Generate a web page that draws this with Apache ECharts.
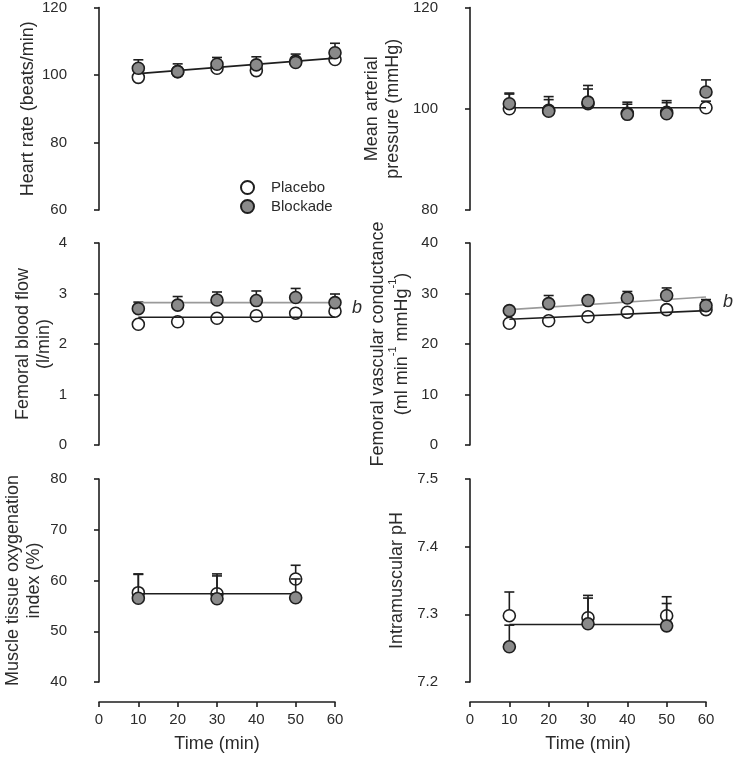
<!DOCTYPE html>
<html>
<head>
<meta charset="utf-8">
<script src="https://cdn.jsdelivr.net/npm/echarts@6/dist/echarts.min.js"></script>
<style>
  html, body { margin: 0; padding: 0; background: #fff; }
  #chart { width: 734px; height: 757px; }
</style>
</head>
<body>
<div id="chart"></div>
<script>
// time points (min)
const time6 = [10, 20, 30, 40, 50, 60];
const time3 = [10, 30, 50];

// heart rate (beats/min)
const hrPlacebo = [99.3, 101.0, 102.0, 101.3, 104.1, 104.6];
const hrBlockade = [102.0, 101.0, 103.2, 103.0, 103.7, 106.6];
const hrBlockadeErr = [104.5, 103.3, 105.2, 105.4, 106.2, 109.4];
const hrFit = [100.4, 105.0];

// mean arterial pressure (mmHg)
const mapPlacebo = [100.0, 99.7, 101.0, 99.1, 99.3, 100.2];
const mapBlockade = [101.0, 99.5, 101.3, 98.9, 99.0, 103.3];
const mapPlaceboErr = [102.9, 101.8, 103.9, 100.9, 101.2, 101.5];
const mapBlockadeErr = [103.1, 102.4, 104.6, 101.3, 101.6, 105.7];
const mapFit = [100.2, 100.2];

// femoral blood flow (l/min)
const fbfPlacebo = [2.39, 2.44, 2.51, 2.56, 2.61, 2.65];
const fbfBlockade = [2.70, 2.77, 2.87, 2.86, 2.92, 2.82];
const fbfBlockadeErr = [2.83, 2.94, 3.03, 3.05, 3.10, 2.99];
const fbfFitPlacebo = [2.53, 2.53];
const fbfFitBlockade = [2.82, 2.82];

// femoral vascular conductance
const fvcPlacebo = [24.1, 24.6, 25.4, 26.3, 26.8, 26.8];
const fvcBlockade = [26.6, 28.0, 28.6, 29.1, 29.6, 27.6];
const fvcBlockadeErr = [27.3, 29.6, 29.4, 30.4, 31.1, 28.8];
const fvcFitPlacebo = [24.9, 26.6];
const fvcFitBlockade = [26.8, 29.3];

// muscle tissue oxygenation index (%)
const stoPlacebo = [57.6, 57.4, 60.3];
const stoBlockade = [56.5, 56.4, 56.6];
const stoPlaceboErr = [61.3, 61.3, 63.0];
const stoBlockadeErr = [61.2, 60.9, 60.3];
const stoFit = [57.4, 57.4];

// intramuscular pH
const phPlacebo = [7.298, 7.295, 7.298];
const phBlockade = [7.252, 7.286, 7.283];
const phPlaceboErr = [7.333, 7.328, 7.326];
const phBlockadeErr = [7.284, 7.324, 7.316];
const phFit = [7.285, 7.285];

const FONT = '"Liberation Sans", Arial, sans-serif';
const INK = '#1e1e1e';
const TEXT = '#2b2b2b';
const GRAY_FILL = '#8a8a8a';
const GRAY_LINE = '#9a9a9a';

const chart = echarts.init(document.getElementById('chart'), null, { renderer: 'canvas' });

const pairs = (xs, ys) => xs.map((x, i) => [x, ys[i]]);
const errPairs = (xs, ys, tops) => xs.map((x, i) => [x, ys[i], tops[i]]);

// left, top, height of each plotting area
const cells = [
  { left: 99, top: 7, height: 203 },
  { left: 470, top: 7, height: 203 },
  { left: 99, top: 243, height: 202 },
  { left: 470, top: 243, height: 202 },
  { left: 99, top: 479, height: 203 },
  { left: 470, top: 479, height: 203 }
];

const grid = cells.map(c => ({ left: c.left, top: c.top, width: 236, height: c.height }));

const xAxis = cells.map((c, i) => {
  const bottom = i >= 4;
  return {
    gridIndex: i,
    type: 'value',
    min: 0,
    max: 60,
    interval: 10,
    show: bottom,
    offset: 20,
    name: bottom ? 'Time (min)' : '',
    nameLocation: 'middle',
    nameGap: 33,
    nameTextStyle: { fontFamily: FONT, fontSize: 18, color: TEXT },
    axisLine: { show: true, lineStyle: { color: INK, width: 1.6 } },
    axisTick: { show: true, length: 5, lineStyle: { color: INK, width: 1.6 } },
    axisLabel: { margin: 10, fontFamily: FONT, fontSize: 15, color: TEXT },
    splitLine: { show: false }
  };
});

const yDefs = [
  { min: 60, max: 120, interval: 20, name: 'Heart rate (beats/min)', gap: 33 },
  { min: 80, max: 120, interval: 20, name: 'Mean arterial\npressure (mmHg)', gap: 43 },
  { min: 0, max: 4, interval: 1, name: 'Femoral blood flow\n(l/min)', gap: 20 },
  { min: 0, max: 40, interval: 10,
    name: '{n|Femoral vascular conductance}\n{n|(ml min}{s|-1}{n| mmHg}{s|-1}{n|)}', gap: 36 },
  { min: 40, max: 80, interval: 10, name: 'Muscle tissue oxygenation\nindex (%)', gap: 31 },
  { min: 7.2, max: 7.5, interval: 0.1, name: 'Intramuscular pH', gap: 39, fmt: v => v.toFixed(1) }
];

const yAxis = yDefs.map((d, i) => ({
  gridIndex: i,
  type: 'value',
  min: d.min,
  max: d.max,
  interval: d.interval,
  offset: 23,
  name: d.name,
  nameLocation: 'middle',
  nameRotate: 90,
  nameGap: d.gap,
  nameTextStyle: {
    fontFamily: FONT, fontSize: 18, color: TEXT, lineHeight: 21,
    rich: {
      n: { fontFamily: FONT, fontSize: 18, color: TEXT, lineHeight: 24, verticalAlign: 'bottom' },
      s: { fontFamily: FONT, fontSize: 11, color: TEXT, lineHeight: 24, verticalAlign: 'top' }
    }
  },
  axisLine: { show: true, lineStyle: { color: INK, width: 1.6 } },
  axisTick: { show: true, length: 5, lineStyle: { color: INK, width: 1.6 } },
  axisLabel: { margin: 9, fontFamily: FONT, fontSize: 15, color: TEXT, formatter: d.fmt },
  splitLine: { show: false }
}));

function errorBars(i, data, z) {
  return {
    type: 'custom',
    xAxisIndex: i,
    yAxisIndex: i,
    z: z,
    silent: true,
    data: data,
    renderItem: (params, api) => {
      const p = api.coord([api.value(0), api.value(1)]);
      const t = api.coord([api.value(0), api.value(2)]);
      const st = { stroke: INK, lineWidth: 1.6 };
      return {
        type: 'group',
        children: [
          { type: 'line', shape: { x1: p[0], y1: p[1], x2: t[0], y2: t[1] }, style: st },
          { type: 'line', shape: { x1: t[0] - 5, y1: t[1], x2: t[0] + 5, y2: t[1] }, style: st }
        ]
      };
    }
  };
}

function dots(i, name, data) {
  const open = name === 'Placebo';
  return {
    type: 'scatter',
    name: name,
    xAxisIndex: i,
    yAxisIndex: i,
    z: open ? 2 : 5,
    symbol: 'circle',
    symbolSize: 12,
    data: data,
    itemStyle: { color: open ? '#ffffff' : GRAY_FILL, borderColor: INK, borderWidth: 1.6, opacity: 1 }
  };
}

function fit(i, xs, ys, color, label) {
  return {
    type: 'line',
    xAxisIndex: i,
    yAxisIndex: i,
    z: 4,
    silent: true,
    symbol: 'none',
    data: [[xs[0], ys[0]], [xs[xs.length - 1], ys[1]]],
    lineStyle: { color: color, width: 1.6 },
    endLabel: label ? {
      show: true,
      formatter: label,
      distance: 17,
      offset: [0, 5],
      fontFamily: FONT,
      fontSize: 18,
      fontStyle: 'italic',
      color: TEXT
    } : { show: false }
  };
}

const series = [
  // heart rate
  errorBars(0, errPairs(time6, hrBlockade, hrBlockadeErr), 3),
  dots(0, 'Placebo', pairs(time6, hrPlacebo)),
  dots(0, 'Blockade', pairs(time6, hrBlockade)),
  fit(0, time6, hrFit, INK),
  // mean arterial pressure
  errorBars(1, errPairs(time6, mapPlacebo, mapPlaceboErr), 1),
  errorBars(1, errPairs(time6, mapBlockade, mapBlockadeErr), 3),
  dots(1, 'Placebo', pairs(time6, mapPlacebo)),
  dots(1, 'Blockade', pairs(time6, mapBlockade)),
  fit(1, time6, mapFit, INK),
  // femoral blood flow
  errorBars(2, errPairs(time6, fbfBlockade, fbfBlockadeErr), 3),
  dots(2, 'Placebo', pairs(time6, fbfPlacebo)),
  dots(2, 'Blockade', pairs(time6, fbfBlockade)),
  fit(2, time6, fbfFitPlacebo, INK),
  fit(2, time6, fbfFitBlockade, GRAY_LINE, 'b'),
  // femoral vascular conductance
  errorBars(3, errPairs(time6, fvcBlockade, fvcBlockadeErr), 3),
  dots(3, 'Placebo', pairs(time6, fvcPlacebo)),
  dots(3, 'Blockade', pairs(time6, fvcBlockade)),
  fit(3, time6, fvcFitPlacebo, INK),
  fit(3, time6, fvcFitBlockade, GRAY_LINE, 'b'),
  // muscle oxygenation
  errorBars(4, errPairs(time3, stoPlacebo, stoPlaceboErr), 1),
  errorBars(4, errPairs(time3, stoBlockade, stoBlockadeErr), 3),
  dots(4, 'Placebo', pairs(time3, stoPlacebo)),
  dots(4, 'Blockade', pairs(time3, stoBlockade)),
  fit(4, time3, stoFit, INK),
  // intramuscular pH
  errorBars(5, errPairs(time3, phPlacebo, phPlaceboErr), 1),
  errorBars(5, errPairs(time3, phBlockade, phBlockadeErr), 3),
  dots(5, 'Placebo', pairs(time3, phPlacebo)),
  dots(5, 'Blockade', pairs(time3, phBlockade)),
  fit(5, time3, phFit, INK)
];

const option = {
  animation: false,
  backgroundColor: '#ffffff',
  legend: {
    data: ['Placebo', 'Blockade'],
    orient: 'vertical',
    left: 235,
    top: 175,
    itemWidth: 13,
    itemHeight: 13,
    itemGap: 4,
    icon: 'circle',
    selectedMode: false,
    textStyle: { fontFamily: FONT, fontSize: 15, color: TEXT, padding: [0, 0, 0, 12] }
  },
  grid: grid,
  xAxis: xAxis,
  yAxis: yAxis,
  series: series
};

chart.setOption(option);
</script>
</body>
</html>
